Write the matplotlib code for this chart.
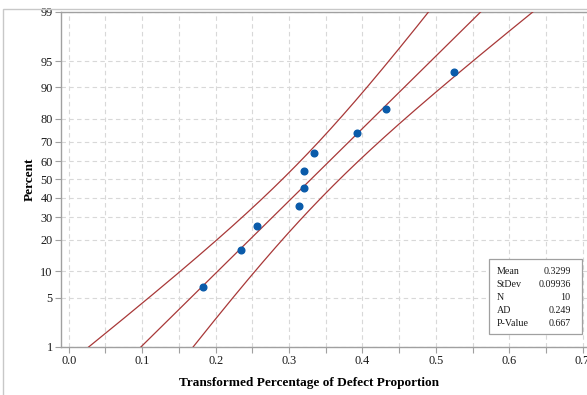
import math
import numpy as np
import matplotlib
matplotlib.use("Agg")
import matplotlib.pyplot as plt
from matplotlib.patches import Rectangle
from matplotlib.ticker import FixedLocator, MultipleLocator

# ---- data ----
x_values = [0.1824, 0.2346, 0.2568, 0.3136, 0.3200, 0.3200, 0.3345, 0.3922, 0.4326, 0.5248]
percent_values = [6.73, 16.35, 25.96, 35.58, 45.19, 54.81, 64.42, 74.04, 83.65, 93.27]
y_ticks = [1, 5, 10, 20, 30, 40, 50, 60, 70, 80, 90, 95, 99]
x_ticks = [0.0, 0.1, 0.2, 0.3, 0.4, 0.5, 0.6, 0.7]
stat_labels = ["Mean", "StDev", "N", "AD", "P-Value"]
stat_texts = ["0.3299", "0.09936", "10", "0.249", "0.667"]
mean_val = 0.3299
sd_val = 0.09936
# band shape constants (half-width^2 = sd^2 * (a + b z^2))
band_a = 0.154
band_b = 0.0659

SERIF = ["Liberation Serif", "DejaVu Serif"]

_erf = np.vectorize(math.erf, otypes=[float])


def cdf(z):
    z = np.asarray(z, dtype=float)
    return 0.5 * (1.0 + _erf(z / math.sqrt(2.0)))


def ppf(p):
    p = np.clip(np.asarray(p, dtype=float), 1e-12, 1 - 1e-12)
    lo = np.full(p.shape, -9.0)
    hi = np.full(p.shape, 9.0)
    for _ in range(60):
        mid = 0.5 * (lo + hi)
        below = cdf(mid) < p
        lo = np.where(below, mid, lo)
        hi = np.where(below, hi, mid)
    return 0.5 * (lo + hi)


def fwd(y):
    return ppf(np.asarray(y, dtype=float) / 100.0)


def inv(z):
    return 100.0 * cdf(z)


W, H = 587, 395
fig = plt.figure(figsize=(W / 100, H / 100), dpi=100)
fig.patch.set_facecolor("white")

# outer frame
fig.add_artist(Rectangle((3 / W, -0.1), 1.2, 1 - 9 / H + 0.1, transform=fig.transFigure,
                         fill=False, edgecolor="#c8c8c8", linewidth=1.0))

left_px, right_px, top_px, bot_px = 61, 597, 12, 346.6
ax = fig.add_axes([left_px / W, (H - bot_px) / H, (right_px - left_px) / W, (bot_px - top_px) / H])
ax.set_yscale("function", functions=(fwd, inv))
ax.set_ylim(1, 99)
ax.set_xlim(-0.0106, 0.7196)

# fitted line and bands
pgrid = np.linspace(0.2, 99.8, 400)
z = ppf(pgrid / 100.0)
fit = mean_val + z * sd_val
hw = sd_val * np.sqrt(band_a + band_b * z ** 2)
line_color = "#A83838"
for xs in (fit, fit - hw, fit + hw):
    ax.plot(xs, pgrid, color=line_color, lw=0.9, zorder=3)

ax.plot(x_values, percent_values, "o", color="#0A5BAA", ms=4.8, mec="#0A5BAA", zorder=4)

# ticks
ax.yaxis.set_major_locator(FixedLocator(y_ticks))
ax.yaxis.set_minor_locator(FixedLocator([]))
ax.set_yticklabels([str(t) for t in y_ticks])
ax.xaxis.set_major_locator(FixedLocator(x_ticks))
ax.xaxis.set_minor_locator(MultipleLocator(0.05))
ax.set_xticklabels([f"{t:.1f}" for t in x_ticks])

ax.tick_params(axis="both", which="both", direction="out", length=4, width=0.8,
               color="#a0a0a0", labelsize=8.8, labelcolor="#1a1a1a", pad=2)
for lab in ax.get_xticklabels() + ax.get_yticklabels():
    lab.set_family(SERIF)

ax.grid(True, which="major", axis="y", color="#d8d8d8", linestyle=(0, (4, 3)), lw=0.8)
ax.grid(True, which="both", axis="x", color="#d8d8d8", linestyle=(0, (4, 3)), lw=0.8)
ax.set_axisbelow(True)

for side in ("left", "bottom", "top"):
    ax.spines[side].set_color("#a0a0a0")
    ax.spines[side].set_linewidth(1.0)
ax.spines["right"].set_visible(False)

fig.text(309 / W, 1 - 383 / H, "Transformed Percentage of Defect Proportion", family=SERIF,
         fontweight="bold", fontsize=9.5, ha="center", va="center", color="black")
fig.text(30 / W, 1 - 179 / H, "Percent", family=SERIF, fontweight="bold", fontsize=9.5,
         rotation=90, ha="center", va="center", color="black")

# stats box
bx0, bx1, by0, by1 = 489.3, 581.7, 259.3, 334
fig.add_artist(Rectangle((bx0 / W, 1 - by1 / H), (bx1 - bx0) / W, (by1 - by0) / H,
                         transform=fig.transFigure, facecolor="white",
                         edgecolor="#a0a0a0", linewidth=0.9, zorder=5))
row_y = [271.0, 284.3, 297.3, 310.5, 323.8]
for lab, val, ry in zip(stat_labels, stat_texts, row_y):
    fig.text(496.7 / W, 1 - ry / H, lab, family=SERIF, fontsize=7.2, va="center",
             ha="left", color="#1a1a1a", zorder=6)
    fig.text(570.7 / W, 1 - ry / H, val, family=SERIF, fontsize=7.2, va="center",
             ha="right", color="#1a1a1a", zorder=6)

fig.savefig("out.png", dpi=100)
